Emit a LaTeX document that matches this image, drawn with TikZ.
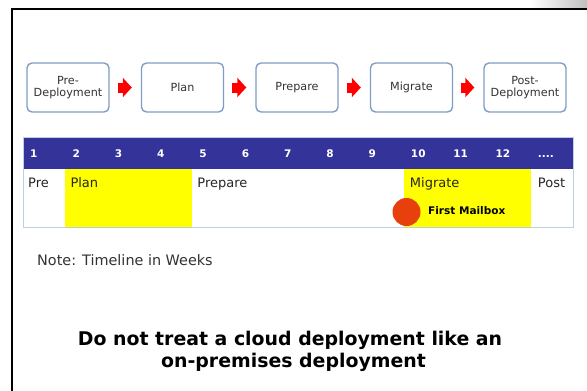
\documentclass[tikz,border=0pt]{standalone}
\usepackage{fontspec}
\setmainfont{DejaVu Sans}
\usetikzlibrary{arrows.meta}

\definecolor{boxline}{RGB}{127,157,198}
\definecolor{barblue}{RGB}{51,51,153}
\definecolor{rowline}{RGB}{190,206,230}
\definecolor{hilite}{RGB}{255,255,0}
\definecolor{milestonered}{RGB}{232,64,12}
\definecolor{labelgray}{RGB}{51,51,51}

\begin{document}
\begin{tikzpicture}[x=1pt,y=-1pt,
  phase/.style={draw=boxline, line width=1.4pt, rounded corners=5pt, fill=white,
    minimum width=82pt, minimum height=49pt, inner sep=0pt, align=center,
    text=labelgray, font=\fontsize{11.2}{11.5}\selectfont},
  flow/.style={red, line width=10pt, -{Triangle[length=9pt,width=19pt]}},
  weeknum/.style={anchor=base west, inner sep=0pt, text=white,
    font=\fontsize{10.5}{12}\selectfont\bfseries},
  rowlabel/.style={anchor=base west, inner sep=0pt, text=black!85,
    font=\fontsize{13}{15}\selectfont},
  slideframe/.style={black, line width=2.5pt},
]
% page area
\useasboundingbox (0,0) rectangle (587,391);
\fill[white] (0,0) rectangle (587,391);

% slide edge with a soft shadow at the top right
\shade[left color=white, right color=black!25] (530,0) rectangle (587,8);
\draw[slideframe] (12,391) -- (12,9) -- (587,9);

% phases
\node[phase] (pre)  at (68,87.5)    {Pre-\\Deployment};
\node[phase] (plan) at (182.5,87.5) {Plan};
\node[phase] (prep) at (297,87.5)   {Prepare};
\node[phase] (migr) at (411.5,87.5) {Migrate};
\node[phase] (post) at (525,87.5)   {Post-\\Deployment};

\draw[flow] ([xshift=8pt]pre.east)  -- ([xshift=-9pt]plan.west);
\draw[flow] ([xshift=8pt]plan.east) -- ([xshift=-9pt]prep.west);
\draw[flow] ([xshift=8pt]prep.east) -- ([xshift=-9pt]migr.west);
\draw[flow] ([xshift=8pt]migr.east) -- ([xshift=-9pt]post.west);

% timeline table
\def\colw{42.31}
\fill[barblue] (23,137) rectangle (573,169);
\fill[white] (23,169) rectangle (573,227);
\fill[hilite] (23+\colw,169) rectangle (23+4*\colw,227);
\fill[hilite] (23+9*\colw,169) rectangle (23+12*\colw,227);
\draw[rowline, line width=0.8pt] (23,137) rectangle (573,227);

\foreach \n in {1,2,3,4,5,6,7,8,9,10,11,12}
  \node[weeknum] (w\n) at (23+\n*\colw-\colw+7,157.5) {\n};
\node[weeknum] (wdots) at (23+12*\colw+7,157.5) {....};

\node[rowlabel] (lpre)  at (23+5,187)          {Pre};
\node[rowlabel] (lplan) at (23+\colw+5,187)    {Plan};
\node[rowlabel] (lprep) at (23+4*\colw+5,187)  {Prepare};
\node[rowlabel] (lmigr) at (23+9*\colw+6,187)  {Migrate};
\node[rowlabel] (lpost) at (23+12*\colw+7,187) {Post};

\node[circle, fill=milestonered, minimum size=28pt, inner sep=0pt] (first) at (406.5,212) {};
\node[anchor=base west, inner sep=0pt, font=\fontsize{10.5}{12}\selectfont\bfseries]
  (firstlbl) at (428,214) {First Mailbox};

% notes
\node[anchor=base west, inner sep=0pt, text=labelgray, font=\fontsize{14.4}{16}\selectfont]
  (note) at (37,265) {Note: Timeline in Weeks};
\node[anchor=base, inner sep=0pt, font=\fontsize{18.9}{22}\selectfont\bfseries]
  (msg1) at (290,345) {Do not treat a cloud deployment like an};
\node[anchor=base, inner sep=0pt, font=\fontsize{18.9}{22}\selectfont\bfseries]
  (msg2) at (293.5,367) {on-premises deployment};
\end{tikzpicture}
\end{document}
